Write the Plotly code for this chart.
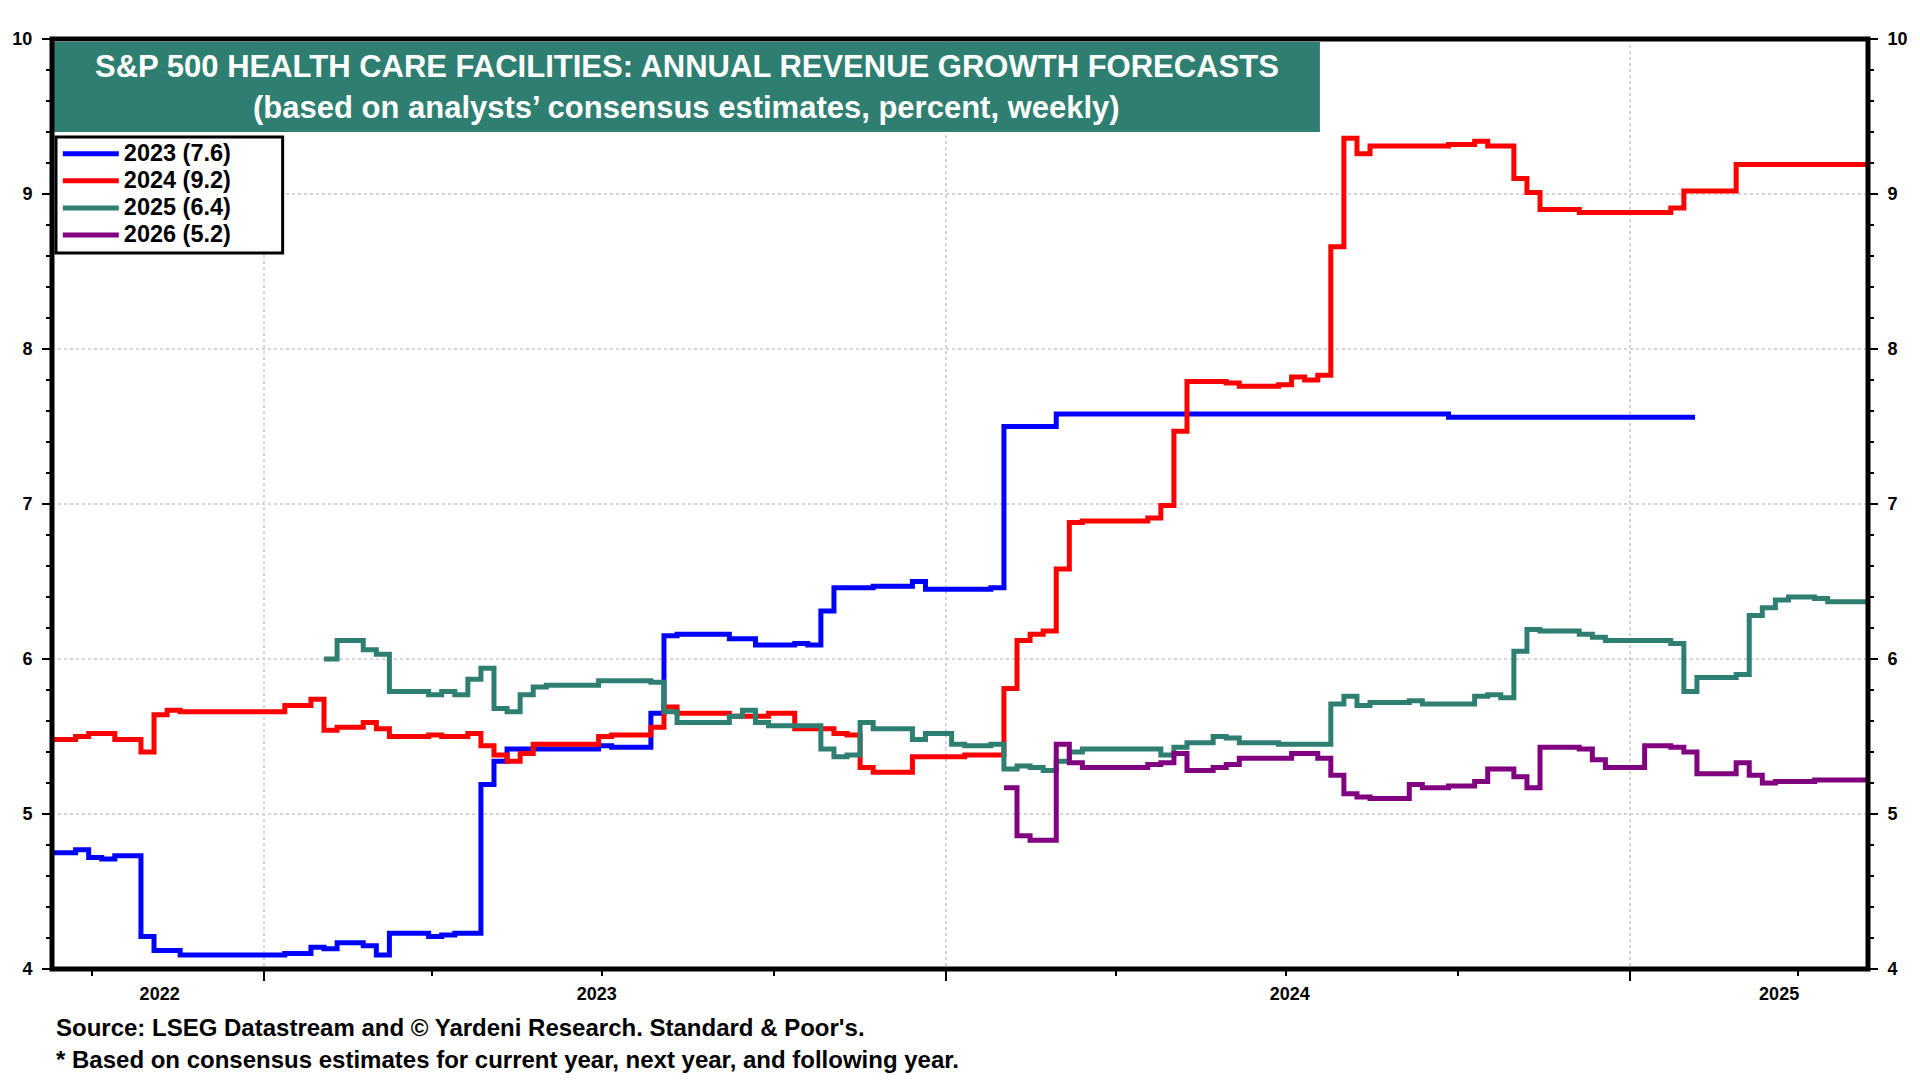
import plotly.graph_objects as go

# ---------------- data (weekly consensus, step changes) ----------------
D2023 = ["2022-09-08", "2022-09-22", "2022-09-29", "2022-10-06", "2022-10-13", "2022-10-27",
         "2022-11-03", "2022-11-17", "2023-01-12", "2023-01-26", "2023-02-02", "2023-02-09",
         "2023-02-23", "2023-03-02", "2023-03-09", "2023-03-30", "2023-04-06", "2023-04-13",
         "2023-04-27", "2023-05-04", "2023-05-11", "2023-06-29", "2023-07-06", "2023-07-27",
         "2023-08-03", "2023-08-10", "2023-09-07", "2023-09-21", "2023-10-12", "2023-10-19",
         "2023-10-26", "2023-11-02", "2023-11-23", "2023-12-14", "2023-12-21", "2024-01-25",
         "2024-02-01", "2024-02-29", "2024-09-26", "2025-02-05"]
V2023 = [4.75, 4.77, 4.72, 4.71, 4.73, 4.21,
         4.12, 4.09, 4.10, 4.14, 4.13, 4.17,
         4.15, 4.09, 4.23, 4.21, 4.22, 4.23,
         5.19, 5.34, 5.42, 5.44, 5.43, 5.65,
         6.15, 6.16, 6.13, 6.09, 6.10, 6.09,
         6.31, 6.46, 6.47, 6.50, 6.45, 6.46,
         7.50, 7.58, 7.56, 7.56]

D2024 = ["2022-09-08", "2022-09-22", "2022-09-29", "2022-10-13", "2022-10-27", "2022-11-03",
         "2022-11-10", "2022-11-17", "2023-01-12", "2023-01-26", "2023-02-02", "2023-02-09",
         "2023-02-23", "2023-03-02", "2023-03-09", "2023-03-30", "2023-04-06", "2023-04-20",
         "2023-04-27", "2023-05-04", "2023-05-11", "2023-05-18", "2023-05-25", "2023-06-29",
         "2023-07-06", "2023-07-27", "2023-08-03", "2023-08-10", "2023-09-07", "2023-09-28",
         "2023-10-12", "2023-11-02", "2023-11-09", "2023-11-16", "2023-11-23", "2023-12-14",
         "2024-01-11", "2024-02-01", "2024-02-08", "2024-02-15", "2024-02-22", "2024-02-29",
         "2024-03-07", "2024-03-14", "2024-04-18", "2024-04-25", "2024-05-02", "2024-05-09",
         "2024-05-30", "2024-06-06", "2024-06-27", "2024-07-04", "2024-07-11", "2024-07-18",
         "2024-07-25", "2024-08-01", "2024-08-08", "2024-08-15", "2024-09-26", "2024-10-10",
         "2024-10-17", "2024-10-31", "2024-11-07", "2024-11-14", "2024-12-05", "2025-01-23",
         "2025-01-30", "2025-02-27", "2025-05-08"]
V2024 = [5.48, 5.50, 5.52, 5.48, 5.40, 5.64,
         5.67, 5.66, 5.70, 5.74, 5.54, 5.56,
         5.59, 5.55, 5.50, 5.51, 5.50, 5.52,
         5.44, 5.38, 5.34, 5.39, 5.45, 5.50,
         5.51, 5.56, 5.69, 5.65, 5.63, 5.65,
         5.55, 5.52, 5.51, 5.30, 5.27, 5.37,
         5.38, 5.81, 6.12, 6.16, 6.18, 6.58,
         6.88, 6.89, 6.91, 6.99, 7.47, 7.79,
         7.78, 7.76, 7.77, 7.82, 7.80, 7.83,
         8.66, 9.36, 9.26, 9.31, 9.32, 9.34,
         9.31, 9.10, 9.01, 8.90, 8.88, 8.91,
         9.02, 9.19, 9.19]

D2025 = ["2023-02-02", "2023-02-09", "2023-02-23", "2023-03-02", "2023-03-09", "2023-03-30",
         "2023-04-06", "2023-04-13", "2023-04-20", "2023-04-27", "2023-05-04", "2023-05-11",
         "2023-05-18", "2023-05-25", "2023-06-01", "2023-06-29", "2023-07-27", "2023-08-03",
         "2023-08-10", "2023-09-07", "2023-09-14", "2023-09-21", "2023-09-28", "2023-10-26",
         "2023-11-02", "2023-11-09", "2023-11-16", "2023-11-23", "2023-12-14", "2023-12-21",
         "2024-01-04", "2024-01-11", "2024-01-25", "2024-02-01", "2024-02-08", "2024-02-15",
         "2024-02-22", "2024-02-29", "2024-03-07", "2024-03-14", "2024-04-25", "2024-05-02",
         "2024-05-09", "2024-05-23", "2024-05-30", "2024-06-06", "2024-06-27", "2024-07-25",
         "2024-08-01", "2024-08-08", "2024-08-15", "2024-09-05", "2024-09-12", "2024-10-10",
         "2024-10-17", "2024-10-24", "2024-10-31", "2024-11-07", "2024-11-14", "2024-12-05",
         "2024-12-12", "2024-12-19", "2025-01-23", "2025-01-30", "2025-02-06", "2025-02-27",
         "2025-03-06", "2025-03-13", "2025-03-20", "2025-03-27", "2025-04-10", "2025-04-17",
         "2025-05-08"]
V2025 = [6.00, 6.12, 6.06, 6.03, 5.79, 5.77,
         5.79, 5.77, 5.87, 5.94, 5.68, 5.66,
         5.77, 5.82, 5.83, 5.86, 5.85, 5.66,
         5.59, 5.63, 5.67, 5.59, 5.57, 5.42,
         5.37, 5.38, 5.59, 5.55, 5.48, 5.52,
         5.45, 5.44, 5.45, 5.29, 5.31, 5.30,
         5.28, 5.34, 5.40, 5.42, 5.38, 5.43,
         5.46, 5.50, 5.49, 5.46, 5.45, 5.71,
         5.76, 5.70, 5.72, 5.73, 5.71, 5.76,
         5.77, 5.75, 6.05, 6.19, 6.18, 6.16,
         6.14, 6.12, 6.10, 5.79, 5.88, 5.90,
         6.28, 6.33, 6.38, 6.40, 6.39, 6.37,
         6.37]

D2026 = ["2024-02-01", "2024-02-08", "2024-02-15", "2024-02-29", "2024-03-07", "2024-03-14",
         "2024-04-18", "2024-04-25", "2024-05-02", "2024-05-09", "2024-05-23", "2024-05-30",
         "2024-06-06", "2024-07-04", "2024-07-18", "2024-07-25", "2024-08-01", "2024-08-08",
         "2024-08-15", "2024-09-05", "2024-09-12", "2024-09-26", "2024-10-10", "2024-10-17",
         "2024-10-31", "2024-11-07", "2024-11-14", "2024-12-05", "2024-12-12", "2024-12-19",
         "2025-01-09", "2025-01-23", "2025-01-30", "2025-02-06", "2025-02-27", "2025-03-06",
         "2025-03-13", "2025-03-20", "2025-04-10", "2025-05-08"]
V2026 = [5.17, 4.86, 4.83, 5.45, 5.33, 5.30,
         5.32, 5.33, 5.39, 5.28, 5.30, 5.32,
         5.36, 5.39, 5.36, 5.25, 5.13, 5.11,
         5.10, 5.19, 5.17, 5.18, 5.21, 5.29,
         5.24, 5.17, 5.43, 5.42, 5.35, 5.30,
         5.44, 5.43, 5.40, 5.26, 5.33, 5.25,
         5.20, 5.21, 5.22, 5.22]

SERIES_NAMES = ["2023 (7.6)", "2024 (9.2)", "2025 (6.4)", "2026 (5.2)"]
SERIES_COLORS = ["#0000FF", "#FF0000", "#2E7F72", "#800080"]

X_RANGE = ["2022-09-09 09:00", "2025-05-08 14:00"]
Y_RANGE = [4, 10]
Y_TICKS = [4, 5, 6, 7, 8, 9, 10]
YEAR_STARTS = ["2023-01-01", "2024-01-01", "2025-01-01"]
YEAR_LABEL_POS = ["2022-11-06", "2023-06-28", "2024-07-03", "2025-03-22"]
YEAR_LABELS = ["2022", "2023", "2024", "2025"]

TITLE_1 = "S&P 500 HEALTH CARE FACILITIES: ANNUAL REVENUE GROWTH FORECASTS"
TITLE_2 = "(based on analysts\u2019 consensus estimates, percent, weekly)"
SOURCE_1 = "Source: LSEG Datastream and \u00a9 Yardeni Research. Standard & Poor's."
SOURCE_2 = "* Based on consensus estimates for current year, next year, and following year."

FONT = "Liberation Sans, Arial, sans-serif"
TEAL_BOX = "#2E7F72"
GRID = "#D4D4D4"

# ---------------- figure ----------------
fig = go.Figure()
for d, v, name, col in zip([D2023, D2024, D2025, D2026], [V2023, V2024, V2025, V2026],
                           SERIES_NAMES, SERIES_COLORS):
    fig.add_trace(go.Scatter(x=d, y=v, name="<span style='font-size:23.5px'>" + name + "</span>",
                             mode="lines", line=dict(color=col, width=5, shape="hv"),
                             hovertemplate=name + ": %{y:.2f}<br>%{x|%Y-%m-%d}<extra></extra>"))

# helper traces so the secondary axes (year labels, right-hand values) are drawn
fig.add_trace(go.Scatter(x=[None], y=[None], xaxis="x2", yaxis="y", showlegend=False, hoverinfo="skip"))
fig.add_trace(go.Scatter(x=[None], y=[None], xaxis="x", yaxis="y2", showlegend=False, hoverinfo="skip"))

tickfont = dict(family=FONT, size=18, color="black", weight="bold")

fig.update_layout(
    width=1920, height=1080,
    margin=dict(l=52, r=49, t=39, b=111),
    paper_bgcolor="white", plot_bgcolor="white",
    font=dict(family=FONT, color="black", weight="bold"),
    xaxis=dict(type="date", range=X_RANGE, tickvals=YEAR_STARTS, ticktext=["", "", ""],
               ticks="outside", ticklen=11, tickwidth=1.5, tickcolor="black",
               showgrid=True, gridcolor=GRID, griddash="dot", gridwidth=2,
               minor=dict(dtick="M3", tick0="2022-01-01", ticks="outside", ticklen=6,
                          tickwidth=1.5, tickcolor="black", showgrid=False),
               showline=False, zeroline=False),
    xaxis2=dict(type="date", range=X_RANGE, overlaying="x", anchor="y", side="bottom",
                tickvals=YEAR_LABEL_POS, ticktext=YEAR_LABELS, ticks="",
                tickfont=tickfont, ticklabelstandoff=12,
                showgrid=False, showline=False, zeroline=False),
    yaxis=dict(range=Y_RANGE, tickvals=Y_TICKS, ticks="outside", ticklen=9, tickwidth=2,
               tickcolor="black", tickfont=tickfont, ticklabelstandoff=6,
               showgrid=True, gridcolor=GRID, griddash="dot", gridwidth=2,
               minor=dict(dtick=0.2, ticks="outside", ticklen=5, tickwidth=1.5,
                          tickcolor="black", showgrid=False),
               showline=False, zeroline=False),
    yaxis2=dict(range=Y_RANGE, overlaying="y", side="right", anchor="x", tickvals=Y_TICKS,
                ticks="outside", ticklen=9, tickwidth=2, tickcolor="black", tickfont=tickfont,
                ticklabelstandoff=6, showgrid=False,
                minor=dict(dtick=0.2, ticks="outside", ticklen=5, tickwidth=1.5,
                           tickcolor="black", showgrid=False),
                showline=False, zeroline=False),
    legend=dict(x=0.0032, y=0.8965, xanchor="left", yanchor="top",
                bgcolor="rgba(0,0,0,0)", borderwidth=0,
                font=dict(family=FONT, size=18.5, color="black", weight="bold"),
                itemwidth=56, tracegroupgap=0),
    showlegend=True,
)

# legend frame (white panel with black border)
fig.add_shape(type="rect", xref="paper", yref="paper", x0=0.0022, x1=0.127, y0=0.7699, y1=0.8946,
              fillcolor="white", line=dict(color="black", width=3), layer="above")
# title box and plot frame
fig.add_shape(type="rect", xref="paper", yref="paper", x0=0.0011, x1=0.6982, y0=0.9, y1=0.9968,
              fillcolor=TEAL_BOX, line=dict(width=0), layer="above")
fig.add_shape(type="rect", xref="paper", yref="paper", x0=0, x1=1, y0=0, y1=1,
              line=dict(color="black", width=5), layer="above")

fig.add_annotation(text=TITLE_1, xref="paper", yref="paper", x=0.3496, y=1, xanchor="center",
                   yanchor="middle", yshift=-27.7, showarrow=False,
                   font=dict(family=FONT, size=31, color="white", weight="bold"))
fig.add_annotation(text=TITLE_2, xref="paper", yref="paper", x=0.3496, y=1, xanchor="center",
                   yanchor="middle", yshift=-68.3, showarrow=False,
                   font=dict(family=FONT, size=31, color="white", weight="bold"))

fig.add_annotation(text=SOURCE_1, xref="paper", yref="paper", x=0.0011, y=0, xanchor="left",
                   yanchor="middle", yshift=-58.5, showarrow=False,
                   font=dict(family=FONT, size=24, color="black", weight="bold"))
fig.add_annotation(text=SOURCE_2, xref="paper", yref="paper", x=0.0011, y=0, xanchor="left",
                   yanchor="middle", yshift=-90, showarrow=False,
                   font=dict(family=FONT, size=24, color="black", weight="bold"))

# place the 1920x1080 figure flush with the window (no default page margin)
fig.write_html("out.html", config={"displayModeBar": False},
               post_script="document.body.style.margin='0';document.body.style.overflow='hidden';")
